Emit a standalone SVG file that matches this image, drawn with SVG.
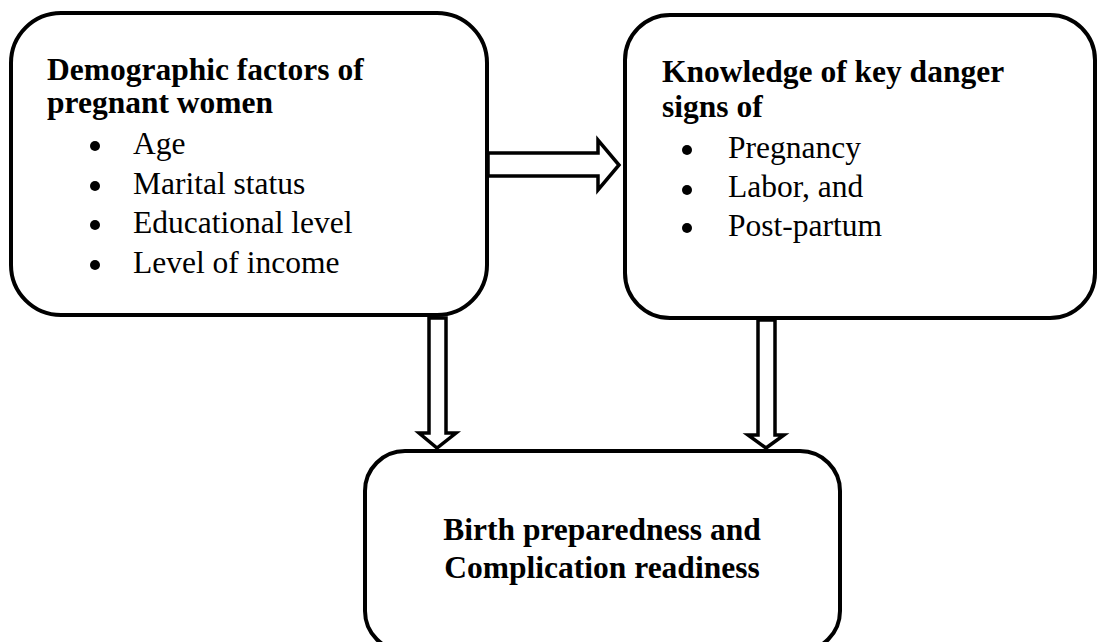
<svg xmlns="http://www.w3.org/2000/svg" width="1097" height="642" viewBox="0 0 1097 642">
<style>
.box{fill:#fff;stroke:#000;stroke-width:4}
.arr{fill:#fff;stroke:#000;stroke-width:3.5;stroke-linejoin:miter}
.t{font-family:"Liberation Serif","Times New Roman",serif;font-size:31.5px;fill:#000}
.b{font-weight:bold}
</style>
<rect width="1097" height="642" fill="#fff"/>
<g id="connectors">
<path class="arr" d="M488,153 H598 V140 L619,165 L598,190 V176 H488 Z"/>
<path class="arr" d="M429,318 V433 H419 L437,448 L456,433 H446 V318 Z"/>
<path class="arr" d="M758,320 V435 H748 L766,448 L784,435 H775 V320 Z"/>
</g>
<g id="node-demographic">
<rect class="box" x="11" y="13" width="476" height="302" rx="50"/>
<text class="t b" x="47" y="80">Demographic factors of</text>
<text class="t b" x="47" y="113">pregnant women</text>
<circle cx="95" cy="146" r="5"/><text class="t" x="133" y="154">Age</text>
<circle cx="95" cy="186" r="5"/><text class="t" x="133" y="194">Marital status</text>
<circle cx="95" cy="225" r="5"/><text class="t" x="133" y="233">Educational level</text>
<circle cx="95" cy="265" r="5"/><text class="t" x="133" y="273">Level of income</text>
</g>
<g id="node-knowledge">
<rect class="box" x="625" y="15" width="470" height="303" rx="45"/>
<text class="t b" x="662" y="82">Knowledge of key danger</text>
<text class="t b" x="662" y="117">signs of</text>
<circle cx="687" cy="150" r="5"/><text class="t" x="728" y="158">Pregnancy</text>
<circle cx="687" cy="190" r="5"/><text class="t" x="728" y="197">Labor, and</text>
<circle cx="687" cy="228" r="5"/><text class="t" x="728" y="236">Post-partum</text>
</g>
<g id="node-birth">
<rect class="box" x="365" y="451" width="475" height="200" rx="40"/>
<text class="t b" x="602" y="540" text-anchor="middle">Birth preparedness and</text>
<text class="t b" x="602" y="578" text-anchor="middle">Complication readiness</text>
</g>
</svg>
